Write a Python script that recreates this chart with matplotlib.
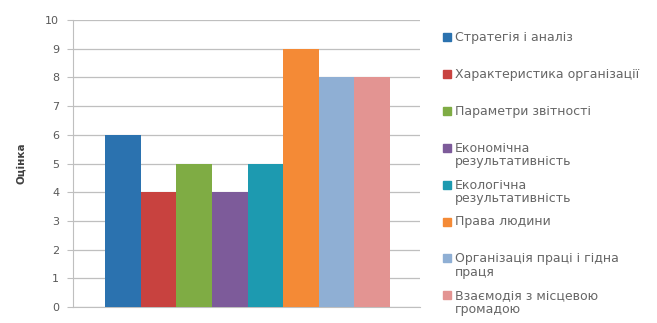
import numpy as np
import matplotlib.pyplot as plt
from matplotlib.patches import Rectangle

categories = ['Стратегія і аналіз', 'Характеристика організації', 'Параметри звітності',
              'Економічна\nрезультативність', 'Екологічна\nрезультативність', 'Права людини',
              'Організація праці і гідна\nпраця', 'Взаємодія з місцевою\nгромадою']
values = [6, 4, 5, 4, 5, 9, 8, 8]
colors = ['#2B72AF', '#C8423F', '#7FAC44', '#7D5B9A', '#1D9AB0', '#F48A36', '#8FAFD4', '#E39492']

W, H = 657, 323
fig = plt.figure(figsize=(W / 100, H / 100), dpi=100)
ax = fig.add_axes([73 / W, 1 - 307 / H, (420 - 73) / W, (307 - 20) / H])

x = np.arange(len(values))
ax.bar(x, values, width=1.0, color=colors, zorder=3)

ax.set_xlim(-1.4, 8.34)
ax.set_ylim(0, 10)
ax.set_yticks(range(0, 11))
ax.set_xticks([])
ax.grid(axis='y', color='#BFBFBF', linewidth=0.9, zorder=0)
for s in ['top', 'right']:
    ax.spines[s].set_visible(False)
ax.spines['left'].set_color('#BFBFBF')
ax.spines['bottom'].set_color('#BFBFBF')
ax.tick_params(axis='y', length=4, color='#BFBFBF', labelsize=8, labelcolor='#595959', pad=6)
ax.set_ylabel('Оцінка', fontsize=7.5, fontweight='bold', color='#404040', labelpad=14)

# legend, drawn Excel-style with the swatch next to the first line
for i, (lab, c) in enumerate(zip(categories, colors)):
    yp = 37 + i * 36.9
    fig.patches.append(Rectangle((443 / W, 1 - (yp + 4) / H), 8 / W, 8 / H,
                                 transform=fig.transFigure, color=c))
    fig.text(455 / W, 1 - (yp - 6) / H, lab, fontsize=9, color='#666666',
             va='top', ha='left', linespacing=1.05, transform=fig.transFigure)

fig.savefig('out.png', dpi=100)
